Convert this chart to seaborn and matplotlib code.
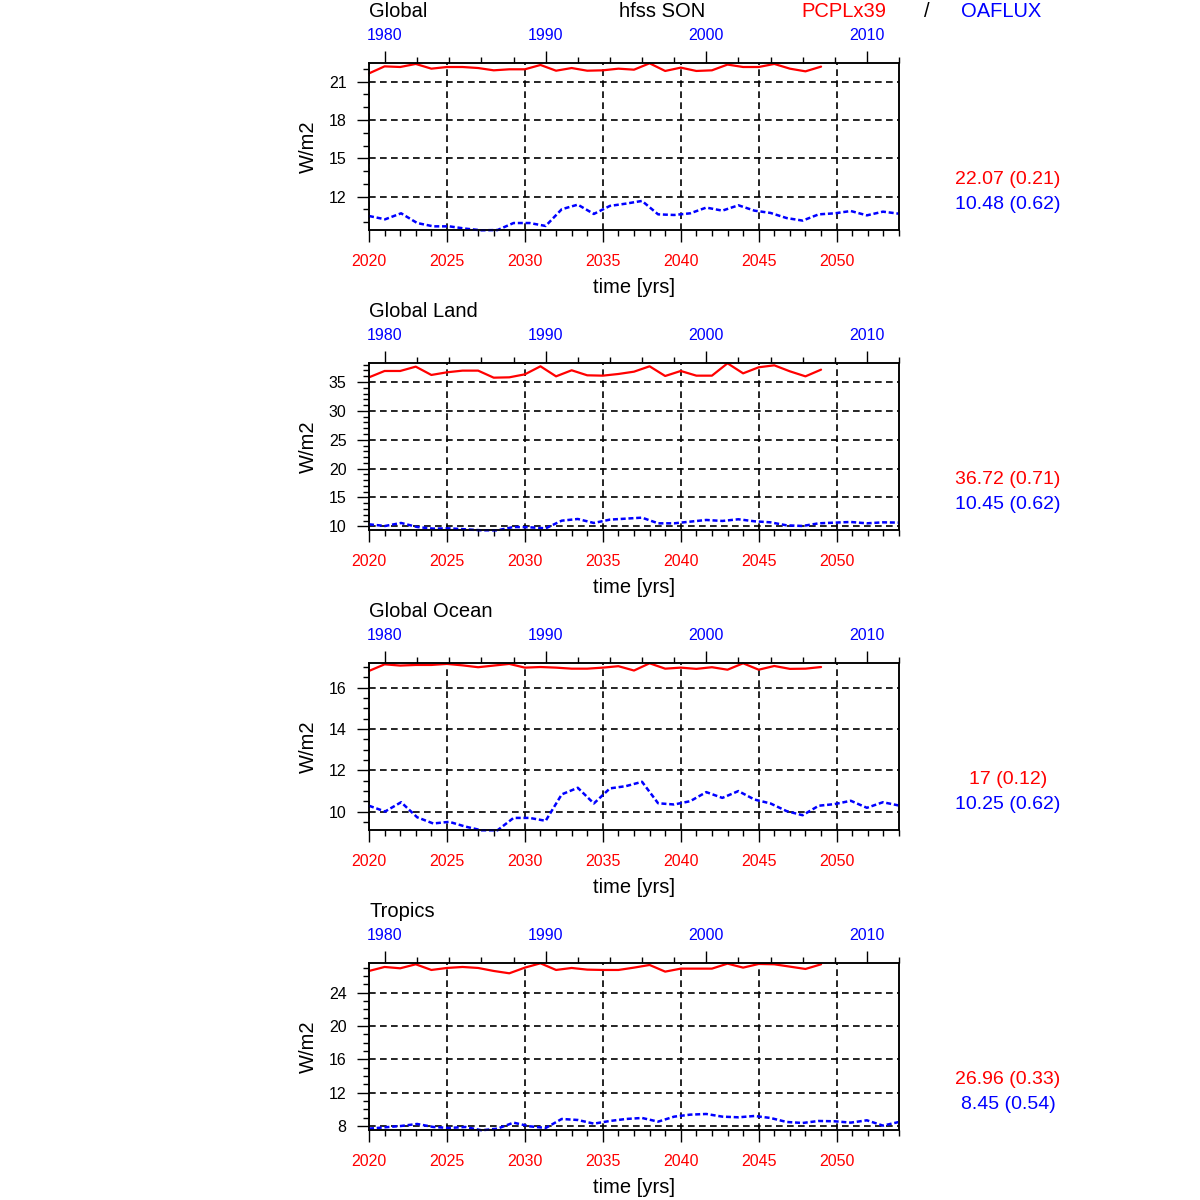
import matplotlib.pyplot as plt
from matplotlib.ticker import MultipleLocator
import seaborn as sns

# model run (bottom axis) and observations (top axis)
model_years = list(range(2020, 2050))
obs_years = list(range(1979, 2013))

regions = ["Global", "Global Land", "Global Ocean", "Tropics"]

pcpl_global = [21.65, 22.20, 22.15, 22.39, 22.02, 22.15, 22.15, 22.07, 21.89, 21.97,
               21.97, 22.31, 21.86, 22.07, 21.86, 21.89, 22.02, 21.94, 22.44, 21.84,
               22.10, 21.84, 21.89, 22.34, 22.15, 22.15, 22.39, 22.02, 21.81, 22.18]
pcpl_land = [35.81, 36.91, 36.91, 37.66, 36.22, 36.68, 36.97, 36.97, 35.75, 35.81,
             36.33, 37.72, 35.98, 37.03, 36.16, 36.10, 36.39, 36.79, 37.72, 36.04,
             36.91, 36.10, 36.10, 38.24, 36.50, 37.55, 37.89, 36.85, 35.98, 37.14]
pcpl_ocean = [16.81, 17.13, 17.07, 17.10, 17.10, 17.15, 17.08, 16.99, 17.07, 17.15,
              16.97, 17.00, 16.97, 16.92, 16.92, 16.97, 17.04, 16.83, 17.18, 16.92,
              16.97, 16.91, 16.99, 16.87, 17.18, 16.87, 17.05, 16.91, 16.92, 17.00]
pcpl_tropics = [26.61, 27.09, 26.93, 27.41, 26.73, 26.97, 27.09, 26.97, 26.61, 26.33,
                27.01, 27.53, 26.73, 26.97, 26.77, 26.73, 26.73, 27.01, 27.33, 26.53,
                26.89, 26.89, 26.89, 27.49, 27.01, 27.45, 27.41, 27.13, 26.85, 27.41]

oaflux_global = [10.48, 10.22, 10.69, 9.93, 9.67, 9.67, 9.49, 9.36, 9.38, 9.93,
                 9.93, 9.70, 11.01, 11.37, 10.64, 11.27, 11.45, 11.66, 10.61, 10.56,
                 10.69, 11.14, 10.90, 11.32, 10.90, 10.72, 10.32, 10.12, 10.61, 10.69,
                 10.87, 10.53, 10.82, 10.66]
oaflux_land = [10.35, 10.06, 10.58, 9.88, 9.60, 9.65, 9.48, 9.31, 9.31, 9.88,
               9.83, 9.65, 10.98, 11.27, 10.58, 11.16, 11.33, 11.50, 10.52, 10.52,
               10.81, 11.10, 10.93, 11.22, 10.87, 10.69, 10.17, 10.06, 10.52, 10.64,
               10.75, 10.52, 10.69, 10.64]
oaflux_ocean = [10.28, 10.00, 10.45, 9.72, 9.42, 9.50, 9.27, 9.09, 9.09, 9.69,
                9.69, 9.55, 10.83, 11.15, 10.39, 11.12, 11.23, 11.44, 10.40, 10.34,
                10.50, 10.94, 10.66, 10.99, 10.58, 10.39, 10.02, 9.82, 10.28, 10.36,
                10.52, 10.18, 10.45, 10.29]
oaflux_tropics = [7.68, 7.84, 8.00, 8.24, 7.88, 7.76, 7.88, 7.48, 7.68, 8.40,
                  7.96, 7.76, 8.84, 8.72, 8.28, 8.60, 8.84, 8.96, 8.52, 9.12,
                  9.36, 9.44, 9.12, 9.04, 9.20, 8.96, 8.48, 8.36, 8.60, 8.56,
                  8.40, 8.68, 8.04, 8.48]

model_series = [pcpl_global, pcpl_land, pcpl_ocean, pcpl_tropics]
obs_series = [oaflux_global, oaflux_land, oaflux_ocean, oaflux_tropics]

# mean (std) as printed on the right of each panel
model_stats = ["22.07 (0.21)", "36.72 (0.71)", "17 (0.12)", "26.96 (0.33)"]
obs_stats = ["10.48 (0.62)", "10.45 (0.62)", "10.25 (0.62)", "8.45 (0.54)"]

y_major = [3, 5, 2, 4]
y_minor = [1, 1, 0.5, 1]

sns.set_style("white")
plt.rcParams["font.family"] = ["Liberation Sans", "DejaVu Sans"]
plt.rcParams.update({"text.color": "black", "axes.labelcolor": "black",
                     "xtick.color": "black", "ytick.color": "black"})

fig = plt.figure(figsize=(12, 12), dpi=100)

grid_ls = (0, (4, 2.6))
for k in range(4):
    bottom = 1 - (230.3 + 300 * k) / 1200
    ax = fig.add_axes([369 / 1200, bottom, 530 / 1200, 167 / 1200])

    sns.lineplot(x=model_years, y=model_series[k], ax=ax, color="red", lw=1.6,
                 clip_on=False)
    ax.set_xlim(2020, 2054)
    lo = min(min(model_series[k]), min(obs_series[k]))
    hi = max(max(model_series[k]), max(obs_series[k]))
    ax.set_ylim(lo, hi)

    ax.xaxis.set_major_locator(MultipleLocator(5))
    ax.xaxis.set_minor_locator(MultipleLocator(1))
    ax.yaxis.set_major_locator(MultipleLocator(y_major[k]))
    ax.yaxis.set_minor_locator(MultipleLocator(y_minor[k]))
    ax.tick_params(axis="x", which="both", direction="out", bottom=True, top=False,
                   labelcolor="red", labelsize=11.5, pad=8.2, width=1)
    ax.tick_params(axis="y", which="both", direction="out", left=True, right=False,
                   labelsize=11.5, pad=7.5, width=1)
    ax.tick_params(which="major", length=8.6)
    ax.tick_params(which="minor", length=4.3)
    ax.set_axisbelow(True)
    ax.grid(True, which="major", color="black", linestyle=grid_ls, lw=1.2)
    for sp in ax.spines.values():
        sp.set_color("black")
        sp.set_linewidth(1.1)

    ax.set_xlabel("time [yrs]", fontsize=14.5)
    ax.xaxis.set_label_coords(0.5, -0.285)
    ax.set_ylabel("W/m2", fontsize=14.5)
    ax.yaxis.set_label_coords(-0.097, 0.5)

    ax2 = ax.twiny()
    sns.lineplot(x=obs_years, y=obs_series[k], ax=ax2, color="blue", lw=1.8,
                 linestyle=(0, (2, 1.1)), clip_on=False)
    ax2.set_xlim(1979, 2012)
    ax2.set_ylim(lo, hi)
    ax2.xaxis.set_major_locator(MultipleLocator(10))
    ax2.xaxis.set_minor_locator(MultipleLocator(2))
    ax2.tick_params(axis="x", which="both", direction="out", top=True, bottom=False,
                    labelcolor="blue", labelsize=11.5, pad=6.3, width=1)
    ax2.tick_params(which="major", length=8.3)
    ax2.tick_params(which="minor", length=4.3)
    ax2.grid(False)
    for sp in ax2.spines.values():
        sp.set_color("black")
        sp.set_linewidth(1.1)

    ax.text(0, 1.278, regions[k], transform=ax.transAxes, ha="left", va="baseline",
            fontsize=14.5)
    if k == 0:
        ax.text(0.553, 1.278, "hfss SON", transform=ax.transAxes, ha="center",
                va="baseline", fontsize=14.5)
        ax.text(0.896, 1.278, "PCPLx39", transform=ax.transAxes, ha="center",
                va="baseline", fontsize=14.5, color="red")
        ax.text(1.053, 1.278, "/", transform=ax.transAxes, ha="center",
                va="baseline", fontsize=14.5)
        ax.text(1.192, 1.278, "OAFLUX", transform=ax.transAxes, ha="center",
                va="baseline", fontsize=14.5, color="blue")

    ax.text(1.2057, 0.302, model_stats[k], transform=ax.transAxes, ha="center",
            va="center", fontsize=14, color="red")
    ax.text(1.2057, 0.157, obs_stats[k], transform=ax.transAxes, ha="center",
            va="center", fontsize=14, color="blue")

fig.savefig("out.png", dpi=100)
